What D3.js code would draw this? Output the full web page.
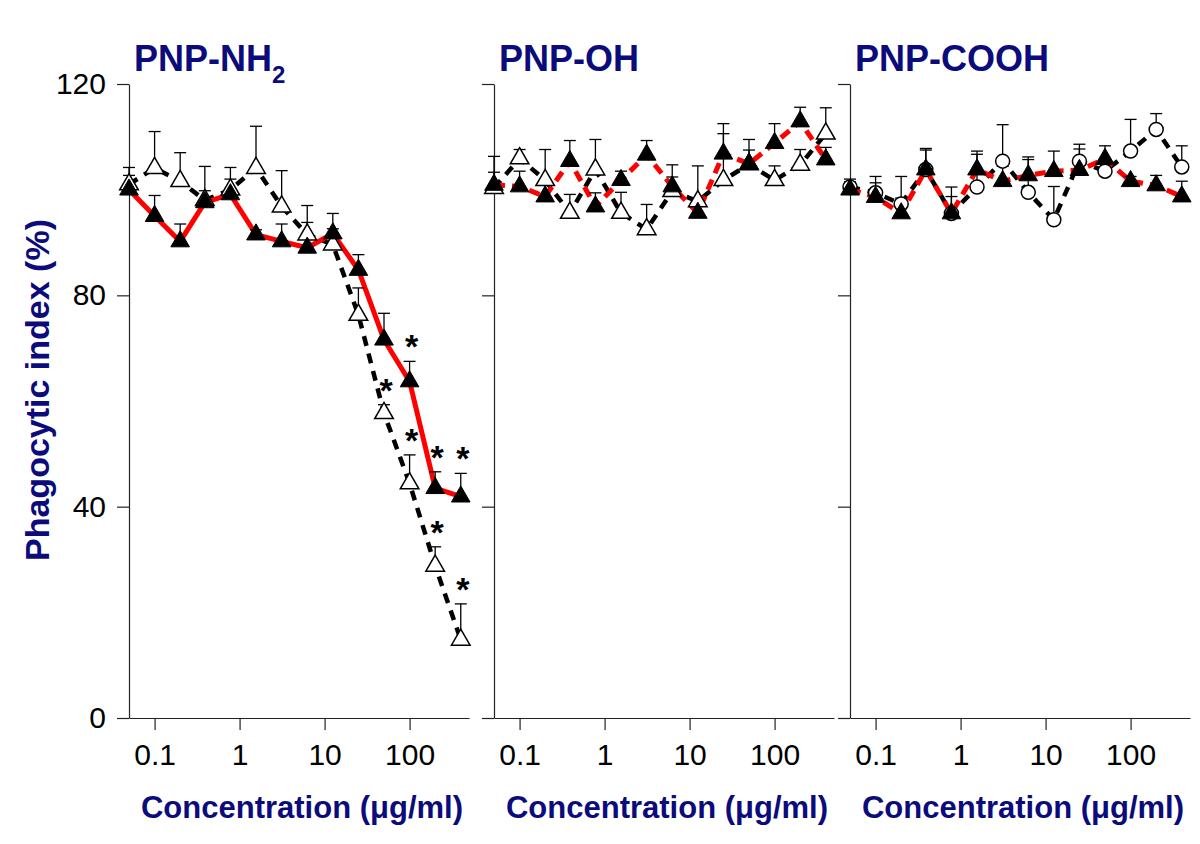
<!DOCTYPE html>
<html>
<head>
<meta charset="utf-8">
<script src="https://cdn.jsdelivr.net/npm/d3@7"></script>
<style>
  html, body { margin: 0; padding: 0; background: #fff; }
  svg { display: block; }
  text { font-family: "Liberation Sans", Arial, sans-serif; }
</style>
</head>
<body>
<svg id="chart" width="1200" height="844"></svg>
<script>
// ---------------- DATA ----------------
const concentrations = [0.05, 0.1, 0.2, 0.39, 0.78, 1.56, 3.125, 6.25, 12.5, 25, 50, 100, 200, 400];
const xTickValues = [0.1, 1, 10, 100];
const yTickValues = [0, 40, 80, 120];

const titleMain = ["PNP-NH", "PNP-OH", "PNP-COOH"];
const titleSub  = ["2", "", ""];
const xAxisTitle = "Concentration (\u03BCg/ml)";
const yAxisTitle = "Phagocytic index (%)";

// PNP-NH2
const nh2Filled    = [100, 95, 90.2, 97.6, 99.1, 91.5, 90.2, 89.0, 91.7, 84.8, 71.6, 63.7, 43.5, 41.9];
const nh2FilledErr = [2.7, 3.9, 3.3, 2.2, 2.9, 0.9, 3.3, 4.8, 3.8, 2.9, 5.0, 3.8, 3.1, 4.4];
const nh2Open      = [101, 104.1, 101.6, 98, 100, 104.1, 96.8, 91.5, 89.6, 76.3, 57.7, 44.4, 28.8, 14.8];
const nh2OpenErr   = [3.2, 6.9, 5.4, 6.4, 4.2, 7.9, 6.8, 5.5, 3.0, 5.1, 1.6, 5.4, 3.6, 6.8];
const nh2FilledStars = [11, 12, 13];
const nh2OpenStars   = [10, 11, 12, 13];

// PNP-OH
const ohFilled    = [100.9, 100.6, 98.7, 105.4, 96.8, 101.8, 106.6, 100.6, 95.6, 106.8, 104.9, 108.8, 112.9, 105.7];
const ohFilledErr = [2.4, 2.9, 2.2, 3.9, 2.6, 1.7, 2.7, 1.8, 1.9, 3.8, 4.6, 3.7, 2.7, 2.3];
const ohOpen      = [100.3, 105.9, 101.8, 95.6, 103.8, 95.6, 92.5, 99.7, 97.8, 101.8, 104.8, 101.8, 104.7, 110.6];
const ohOpenErr   = [6.0, 1.7, 5.8, 3.5, 5.7, 3.9, 4.7, 5.0, 6.7, 10.7, 2.7, 2.7, 2.9, 4.9];

// PNP-COOH
const coohFilled    = [100, 98.6, 95.5, 103.8, 95.5, 103.8, 101.6, 102.7, 103.5, 103.7, 105.8, 101.6, 100.8, 98.7];
const coohFilledErr = [1.5, 2.7, 2.9, 4.0, 5.0, 2.9, 2.8, 3.0, 3.8, 4.0, 2.5, 0.9, 1.9, 2.9];
const coohOpen      = [100.5, 99.4, 97.3, 103.8, 95.5, 100.5, 105.4, 99.5, 94.3, 105.4, 103.5, 107.3, 111.4, 104.3];
const coohOpenErr   = [1.5, 3.1, 5.2, 3.7, 3.2, 6.8, 6.9, 6.7, 6.3, 3.2, 2.0, 6.0, 3.0, 4.0];

// ---------------- LAYOUT ----------------
const NAVY = "#0b0b7c";
const panels = [
  {x0: 129, filled: nh2Filled, filledErr: nh2FilledErr, open: nh2Open, openErr: nh2OpenErr,
   filledDash: null, openShape: "triangle", showLabels: true, fStars: nh2FilledStars, oStars: nh2OpenStars},
  {x0: 494, filled: ohFilled, filledErr: ohFilledErr, open: ohOpen, openErr: ohOpenErr,
   filledDash: "11,7", openShape: "triangle", showLabels: false, fStars: [], oStars: []},
  {x0: 850, filled: coohFilled, filledErr: coohFilledErr, open: coohOpen, openErr: coohOpenErr,
   filledDash: "11,7", openShape: "circle", showLabels: false, fStars: [], oStars: []}
];
const panelW = 340, yTop = 84, yBot = 718;

const svg = d3.select("#chart");
const y = d3.scaleLinear().domain([0, 120]).range([yBot, yTop]);

const triPath = d3.symbol().type(d3.symbolTriangle).size(150)();

panels.forEach((p, pi) => {
  const x = d3.scaleLog().domain([0.05, 500]).range([p.x0, p.x0 + panelW]);
  const g = svg.append("g");

  // y axis
  const yAxis = d3.axisLeft(y).tickValues(yTickValues).tickSize(12).tickSizeOuter(0).tickPadding(11)
    .tickFormat(p.showLabels ? d3.format("d") : () => "");
  const ya = g.append("g").attr("transform", `translate(${p.x0},0)`).call(yAxis);
  ya.selectAll("text").attr("font-size", 30).attr("fill", "#000")
    .attr("font-family", "Liberation Sans, Arial, sans-serif");

  // x axis
  const xAxis = d3.axisBottom(x).tickValues(xTickValues).tickSize(12).tickSizeOuter(0).tickPadding(14)
    .tickFormat(d => d3.format("~g")(d));
  const xa = g.append("g").attr("transform", `translate(0,${yBot})`).call(xAxis);
  xa.selectAll("text").attr("font-size", 30).attr("fill", "#000")
    .attr("font-family", "Liberation Sans, Arial, sans-serif");

  [ya, xa].forEach(a => {
    a.select(".domain").attr("stroke", "#222").attr("stroke-width", 1.2);
    a.selectAll(".tick line").attr("stroke", "#222").attr("stroke-width", 1.2);
  });

  // title
  const t = g.append("text").attr("x", p.x0 + 5).attr("y", 71)
    .attr("font-size", 36).attr("font-weight", "bold").attr("fill", NAVY)
    .text(titleMain[pi]);
  if (titleSub[pi]) {
    t.append("tspan").attr("font-size", 24).attr("dy", 12).text(titleSub[pi]);
  }

  // x axis title
  g.append("text").attr("x", p.x0 + 173).attr("y", 818)
    .attr("text-anchor", "middle").attr("font-size", 31).attr("font-weight", "bold")
    .attr("fill", NAVY).text(xAxisTitle);

  const filledData = concentrations.map((c, i) => ({c, v: p.filled[i], e: p.filledErr[i], i}));
  const openData = concentrations.map((c, i) => ({c, v: p.open[i], e: p.openErr[i], i}));

  const line = d3.line().x(d => x(d.c)).y(d => y(d.v));

  // open series line (black dashed)
  g.append("path").datum(openData).attr("d", line)
    .attr("fill", "none").attr("stroke", "#000").attr("stroke-width", 4.5)
    .attr("stroke-dasharray", "10,8");

  // filled series line (red)
  const fl = g.append("path").datum(filledData).attr("d", line)
    .attr("fill", "none").attr("stroke", "#ff0000").attr("stroke-width", 5);
  if (p.filledDash) fl.attr("stroke-dasharray", p.filledDash);

  // error bars (upper only)
  const drawErr = (data) => {
    const eg = g.append("g").attr("stroke", "#000").attr("stroke-width", 1.3);
    data.forEach(d => {
      const xx = x(d.c), y0 = y(d.v), y1 = y(d.v + d.e);
      eg.append("line").attr("x1", xx).attr("x2", xx).attr("y1", y0).attr("y2", y1);
      eg.append("line").attr("x1", xx - 6).attr("x2", xx + 6).attr("y1", y1).attr("y2", y1);
    });
  };
  drawErr(openData);
  drawErr(filledData);

  // open markers
  if (p.openShape === "triangle") {
    g.append("g").selectAll("path").data(openData).join("path")
      .attr("d", triPath).attr("transform", d => `translate(${x(d.c)},${y(d.v)})`)
      .attr("fill", "#fff").attr("stroke", "#000").attr("stroke-width", 1.5);
  } else {
    g.append("g").selectAll("circle").data(openData).join("circle")
      .attr("cx", d => x(d.c)).attr("cy", d => y(d.v)).attr("r", 7)
      .attr("fill", "#fff").attr("stroke", "#000").attr("stroke-width", 1.5);
  }

  // filled markers
  g.append("g").selectAll("path").data(filledData).join("path")
    .attr("d", triPath).attr("transform", d => `translate(${x(d.c)},${y(d.v)})`)
    .attr("fill", "#000").attr("stroke", "#000").attr("stroke-width", 1);

  // significance asterisks
  const stars = p.fStars.map(i => filledData[i]).concat(p.oStars.map(i => openData[i]));
  g.append("g").selectAll("text").data(stars).join("text")
    .attr("x", d => x(d.c) + 2).attr("y", d => y(d.v + d.e) - 22 + 19)
    .attr("text-anchor", "middle").attr("font-size", 34).attr("font-weight", "bold")
    .attr("fill", "#000").text("*");
});

// y axis title
svg.append("text").attr("transform", "translate(49,390) rotate(-90)")
  .attr("text-anchor", "middle").attr("font-size", 34).attr("font-weight", "bold")
  .attr("fill", NAVY).text(yAxisTitle);
</script>
</body>
</html>
